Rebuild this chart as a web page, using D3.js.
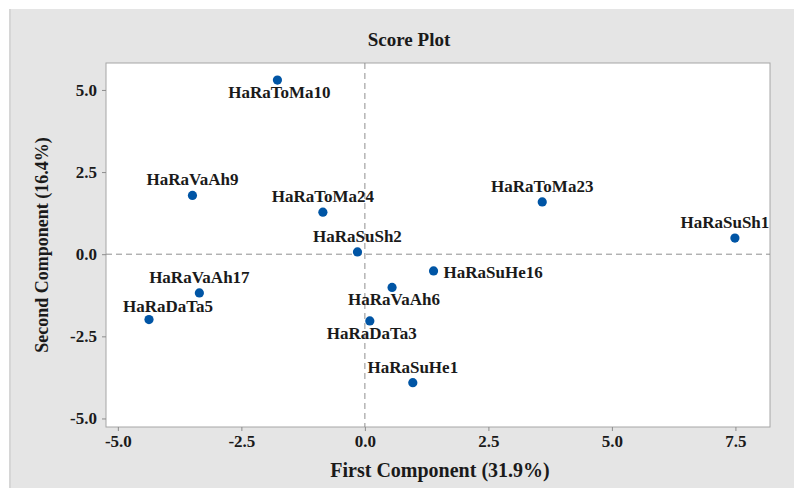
<!DOCTYPE html>
<meta charset="utf-8">
<style>
body { margin: 0; background: #fff; }
text { font-family: "Liberation Serif", "Times New Roman", serif; font-weight: bold; fill: #1a1a1a; }
.axis path { display: none; }
.axis line { stroke: #8c8c8c; }
.axis text { font-size: 17px; }
.lbl { font-size: 17px; }
</style>
<body>
<script src="https://cdn.jsdelivr.net/npm/d3@7"></script>
<script>
// data
var names = ["HaRaToMa10", "HaRaVaAh9", "HaRaToMa24", "HaRaSuSh2", "HaRaVaAh17", "HaRaDaTa5",
             "HaRaSuHe16", "HaRaVaAh6", "HaRaDaTa3", "HaRaSuHe1", "HaRaToMa23", "HaRaSuSh1"];
var pc1 = [-1.77, -3.49, -0.85, -0.15, -3.35, -4.37, 1.39, 0.55, 0.10, 0.97, 3.59, 7.49];
var pc2 = [5.30, 1.79, 1.28, 0.07, -1.18, -1.99, -0.51, -1.01, -2.03, -3.91, 1.59, 0.49];
// where each label sits next to its point
var labelSide = ["below", "above", "above", "above", "above", "aboveRight",
                 "right", "below", "below", "above", "above", "aboveLeft"];
var xTicks = [-5.0, -2.5, 0.0, 2.5, 5.0, 7.5];
var yTicks = [-5.0, -2.5, 0.0, 2.5, 5.0];

var W = 794, H = 490;
var margin = {top: 63, right: 24, bottom: 63, left: 106},
    width = W - margin.left - margin.right,
    height = H - margin.top - margin.bottom;

var x = d3.scaleLinear().domain([-5.24, 8.2]).range([0, width]);
var y = d3.scaleLinear().domain([-5.26, 5.82]).range([height, 0]);

// plain hyphen for negatives, like the original
var fmt = function(d) { return d.toFixed(1); };

var svg = d3.select("body").append("svg")
    .attr("width", W)
    .attr("height", H);

// grey page behind the plot
svg.append("rect")
    .attr("x", 9).attr("y", 9)
    .attr("width", W - 9).attr("height", H - 11)
    .attr("fill", "#e5e5e5");
svg.append("rect")
    .attr("x", 9).attr("y", 9)
    .attr("width", 2).attr("height", H - 11)
    .attr("fill", "#d6d6d6");

svg.append("text")
    .attr("x", 409).attr("y", 46)
    .attr("text-anchor", "middle")
    .style("font-size", "19px")
    .text("Score Plot");

var g = svg.append("g")
    .attr("transform", "translate(" + margin.left + "," + margin.top + ")");

g.append("rect")
    .attr("width", width).attr("height", height)
    .attr("fill", "#fff")
    .attr("stroke", "#a6a6a6");

// reference lines through zero
g.append("line")
    .attr("x1", x(0)).attr("x2", x(0))
    .attr("y1", 0).attr("y2", height)
    .attr("stroke", "#8f8f8f").attr("stroke-dasharray", "6,4");
g.append("line")
    .attr("x1", 0).attr("x2", width)
    .attr("y1", y(0)).attr("y2", y(0))
    .attr("stroke", "#8f8f8f").attr("stroke-dasharray", "6,4");

g.append("g")
    .attr("class", "axis")
    .attr("transform", "translate(0," + height + ")")
    .call(d3.axisBottom(x).tickValues(xTicks).tickFormat(fmt).tickSize(4).tickPadding(4));

g.append("g")
    .attr("class", "axis")
    .call(d3.axisLeft(y).tickValues(yTicks).tickFormat(fmt).tickSize(4).tickPadding(5));

var pts = names.map(function(n, i) {
  return {name: n, a: pc1[i], b: pc2[i], side: labelSide[i]};
});

g.selectAll(".dot")
    .data(pts)
  .enter().append("circle")
    .attr("class", "dot")
    .attr("cx", function(d) { return x(d.a); })
    .attr("cy", function(d) { return y(d.b); })
    .attr("r", 4.6)
    .attr("fill", "#0055a5");

var place = {
  above:      {dx: 0,   dy: -10, anchor: "middle"},
  below:      {dx: 2,   dy: 18,  anchor: "middle"},
  right:      {dx: 10,  dy: 7,   anchor: "start"},
  aboveRight: {dx: 19,  dy: -8,  anchor: "middle"},
  aboveLeft:  {dx: -10, dy: -10, anchor: "middle"}
};

g.selectAll(".lbl")
    .data(pts)
  .enter().append("text")
    .attr("class", "lbl")
    .attr("x", function(d) { return x(d.a) + place[d.side].dx; })
    .attr("y", function(d) { return y(d.b) + place[d.side].dy; })
    .attr("text-anchor", function(d) { return place[d.side].anchor; })
    .text(function(d) { return d.name; });

// axis titles
svg.append("text")
    .attr("x", margin.left + width / 2 + 2).attr("y", 477)
    .attr("text-anchor", "middle")
    .style("font-size", "20px")
    .text("First Component (31.9%)");

svg.append("text")
    .attr("transform", "translate(48," + (margin.top + height / 2) + ") rotate(-90)")
    .attr("text-anchor", "middle")
    .style("font-size", "18px")
    .text("Second Component (16.4%)");
</script>
</body>
